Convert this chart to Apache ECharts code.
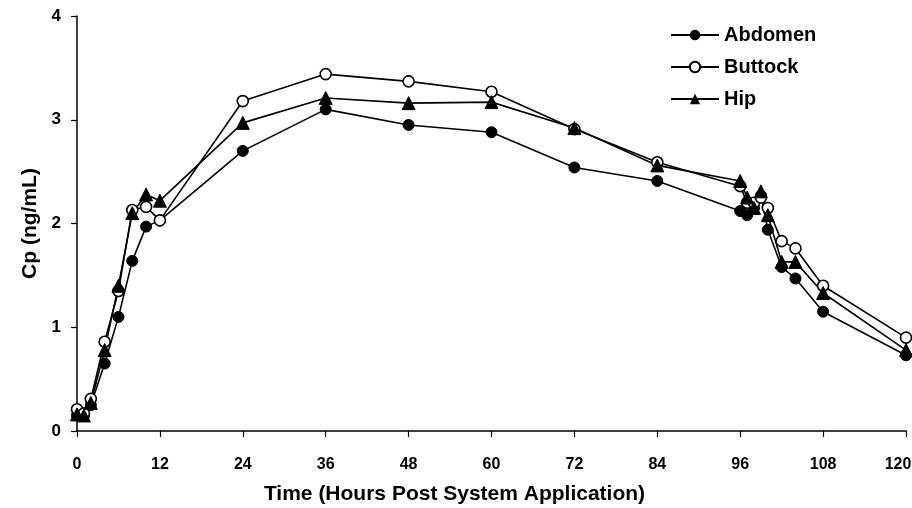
<!DOCTYPE html>
<html>
<head>
<meta charset="utf-8">
<script src="https://cdn.jsdelivr.net/npm/echarts@6/dist/echarts.min.js"></script>
<style>html,body{margin:0;padding:0;background:#fff}#c{width:912px;height:508px}</style>
</head>
<body>
<div id="c"></div>
<script>
const times = [0, 1, 2, 4, 6, 8, 10, 12, 24, 36, 48, 60, 72, 84, 96, 97, 98, 99, 100, 102, 104, 108, 120];
const abdomen = [0.15, 0.15, 0.25, 0.65, 1.10, 1.64, 1.97, 2.03, 2.70, 3.10, 2.95, 2.88, 2.54, 2.41, 2.12, 2.08, 2.15, 2.27, 1.94, 1.58, 1.47, 1.15, 0.73];
const buttock = [0.21, 0.17, 0.31, 0.86, 1.35, 2.13, 2.16, 2.03, 3.18, 3.44, 3.37, 3.27, 2.91, 2.59, 2.36, 2.20, 2.20, 2.25, 2.15, 1.83, 1.76, 1.40, 0.90];
const hip = [0.16, 0.15, 0.27, 0.78, 1.40, 2.10, 2.28, 2.22, 2.97, 3.21, 3.16, 3.17, 2.92, 2.56, 2.41, 2.25, 2.15, 2.31, 2.08, 1.63, 1.63, 1.33, 0.78];
const xTicks = {min: 0, max: 120, interval: 12};
const yTicks = {min: 0, max: 4, interval: 1};

const pair = arr => times.map((t, i) => [t, arr[i]]);
const font = 'Liberation Sans, Arial, sans-serif';
const chart = echarts.init(document.getElementById('c'));
const lineStyle = {color: '#000', width: 1.6};
chart.setOption({
  animation: false,
  backgroundColor: '#fff',
  grid: {left: 77, right: 6, top: 16, bottom: 77, outerBoundsMode: 'none', containLabel: false},
  legend: {
    orient: 'vertical', left: 665, top: 20, itemGap: 12,
    itemWidth: 48, itemHeight: 13,
    textStyle: {fontFamily: font, fontWeight: 'bold', fontSize: 20, color: '#000'},
    data: ['Abdomen', 'Buttock', 'Hip']
  },
  xAxis: {
    type: 'value', min: xTicks.min, max: xTicks.max, interval: xTicks.interval,
    name: 'Time (Hours Post System Application)', nameLocation: 'middle', nameGap: 53,
    nameTextStyle: {fontFamily: font, fontWeight: 'bold', fontSize: 21, color: '#000', padding: [0, 74, 0, 0]},
    axisLine: {lineStyle: {color: '#000', width: 1.5}},
    axisTick: {show: true, length: 6, lineStyle: {color: '#000', width: 1.2}},
    axisLabel: {
      margin: 26, fontFamily: font, fontWeight: 'bold', fontSize: 16, color: '#000',
      formatter: v => v === xTicks.max ? '{m|' + v + '}' : String(v),
      rich: {m: {fontFamily: font, fontWeight: 'bold', fontSize: 16, color: '#000', padding: [0, 16, 0, 0]}}
    },
    splitLine: {show: false}
  },
  yAxis: {
    type: 'value', min: yTicks.min, max: yTicks.max, interval: yTicks.interval,
    name: 'Cp (ng/mL)', nameLocation: 'middle', nameGap: 36, nameRotate: 90,
    nameTextStyle: {fontFamily: font, fontWeight: 'bold', fontSize: 21, color: '#000'},
    axisLine: {show: true, lineStyle: {color: '#000', width: 1.5}},
    axisTick: {show: true, length: 6, lineStyle: {color: '#000', width: 1.2}},
    axisLabel: {margin: 16, fontFamily: font, fontWeight: 'bold', fontSize: 17, color: '#000'},
    splitLine: {show: false}
  },
  series: [
    {name: 'Abdomen', type: 'line', data: pair(abdomen), symbol: 'circle', symbolSize: 11,
     itemStyle: {color: '#000', borderColor: '#000'}, lineStyle: lineStyle},
    {name: 'Buttock', type: 'line', data: pair(buttock), symbol: 'circle', symbolSize: 11,
     itemStyle: {color: '#fff', borderColor: '#000', borderWidth: 1.6}, lineStyle: lineStyle},
    {name: 'Hip', type: 'line', data: pair(hip), symbol: 'triangle', symbolSize: 13,
     itemStyle: {color: '#000', borderColor: '#000'}, lineStyle: lineStyle}
  ]
});
</script>
</body>
</html>
